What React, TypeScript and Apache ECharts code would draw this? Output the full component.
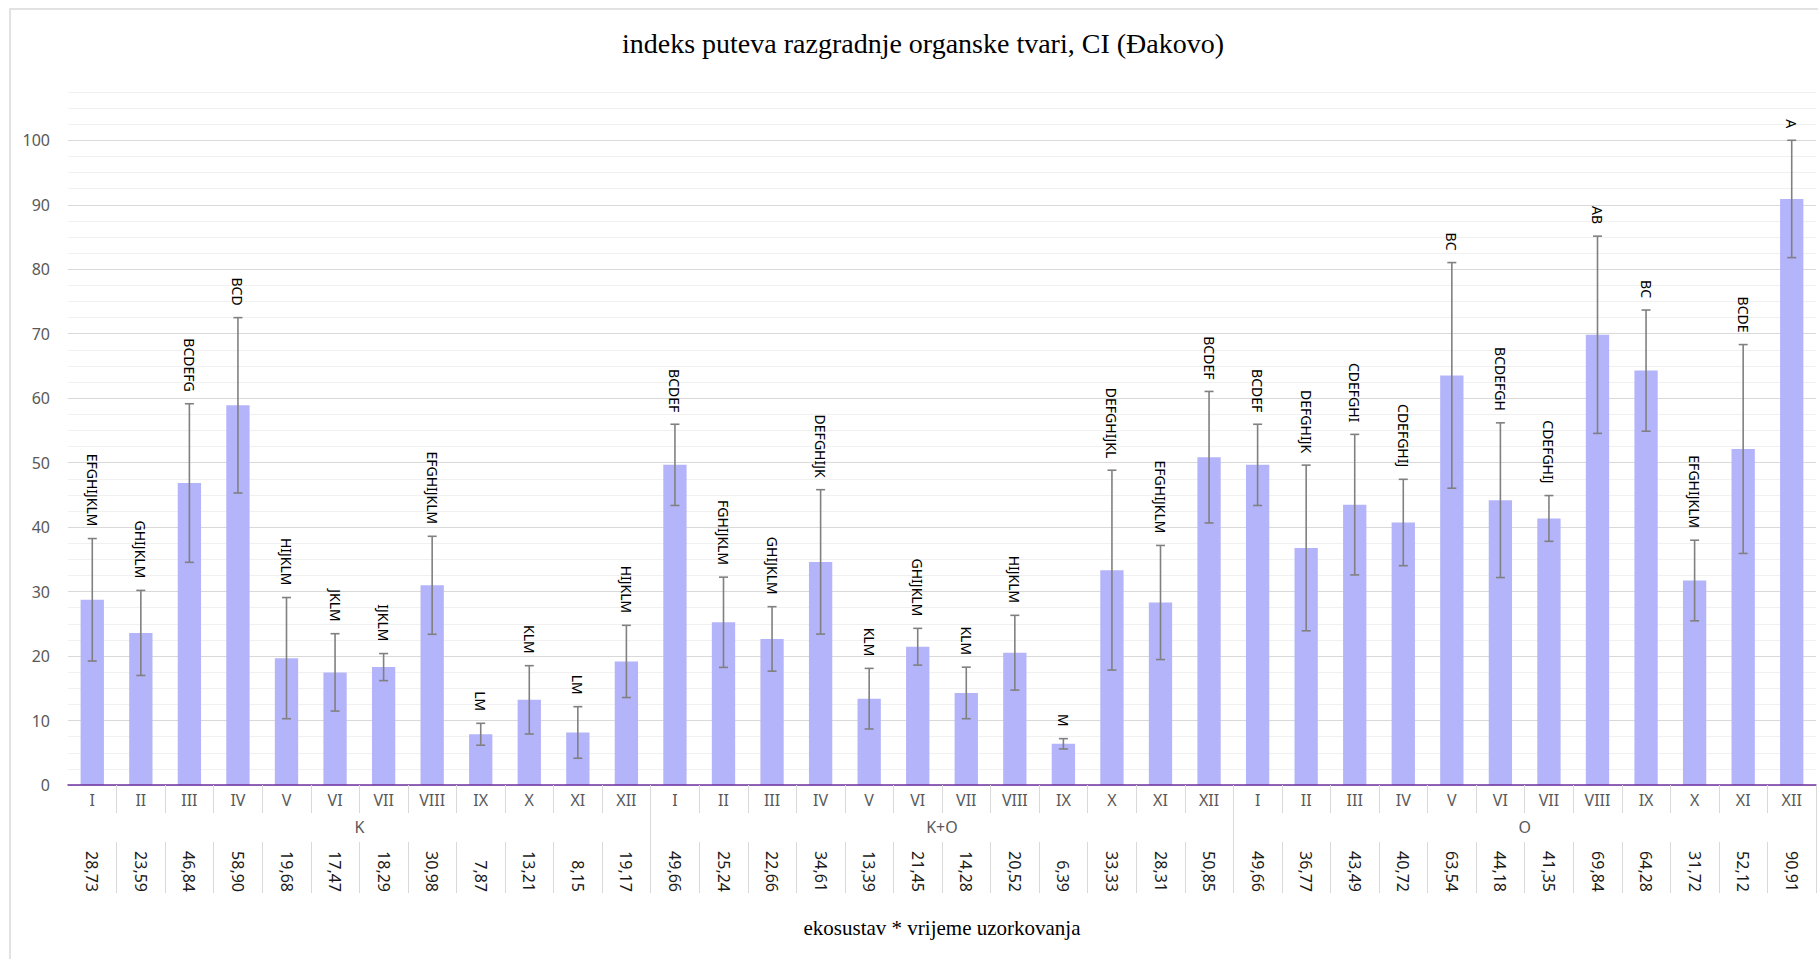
import React, { useEffect, useRef } from "react";
import * as echarts from "echarts";

const months = ["I", "II", "III", "IV", "V", "VI", "VII", "VIII", "IX", "X", "XI", "XII"];
const groups = ["K", "K+O", "O"];

const meanK = [28.73, 23.59, 46.84, 58.9, 19.68, 17.47, 18.29, 30.98, 7.87, 13.21, 8.15, 19.17];
const meanKO = [49.66, 25.24, 22.66, 34.61, 13.39, 21.45, 14.28, 20.52, 6.39, 33.33, 28.31, 50.85];
const meanO = [49.66, 36.77, 43.49, 40.72, 63.54, 44.18, 41.35, 69.84, 64.28, 31.72, 52.12, 90.91];

const errK = [9.5, 6.6, 12.3, 13.6, 9.4, 6.0, 2.1, 7.6, 1.7, 5.3, 4.0, 5.6];
const errKO = [6.3, 7.0, 5.0, 11.2, 4.7, 2.85, 4.0, 5.8, 0.8, 15.5, 8.85, 10.2];
const errO = [6.3, 12.85, 10.9, 6.7, 17.5, 12.0, 3.55, 15.3, 9.4, 6.25, 16.2, 9.1];

const lettersK = ["EFGHIJKLM", "GHIJKLM", "BCDEFG", "BCD", "HIJKLM", "JKLM", "IJKLM", "EFGHIJKLM", "LM", "KLM", "LM", "HIJKLM"];
const lettersKO = ["BCDEF", "FGHIJKLM", "GHIJKLM", "DEFGHIJK", "KLM", "GHIJKLM", "KLM", "HIJKLM", "M", "DEFGHIJKL", "EFGHIJKLM", "BCDEF"];
const lettersO = ["BCDEF", "DEFGHIJK", "CDEFGHI", "CDEFGHIJ", "BC", "BCDEFGH", "CDEFGHIJ", "AB", "BC", "EFGHIJKLM", "BCDE", "A"];

const yMax = 107.5;
const yStep = 2.5;

const titleText = "indeks puteva razgradnje organske tvari, CI (Đakovo)";
const xTitleText = "ekosustav * vrijeme uzorkovanja";

export default function App() {
  const ref = useRef<HTMLDivElement>(null);

  useEffect(() => {
    if (!ref.current) return;
    const chart = echarts.init(ref.current, undefined, { renderer: "svg" });

    const cats = [...months, ...months, ...months];
    const means = [...meanK, ...meanKO, ...meanO];
    const errs = [...errK, ...errKO, ...errO];
    const letters = [...lettersK, ...lettersKO, ...lettersO];
    const valueLabels = means.map((v) => v.toFixed(2).replace(".", ","));
    const errData = means.map((m, i) => [i, m - errs[i], m + errs[i]]);

    const font = "Noto Sans";
    const skipFirst = (i: number) => i !== 0;

    chart.setOption({
      animation: false,
      backgroundColor: "#ffffff",
      graphic: [
        {
          type: "rect",
          shape: { x: 10, y: 9, width: 1830, height: 980 },
          style: { fill: "none", stroke: "#d9d9d9", lineWidth: 1.5 },
          silent: true,
        },
        {
          type: "text",
          x: 923,
          y: 43,
          style: {
            text: titleText,
            fontFamily: "Liberation Serif",
            fontSize: 28,
            fill: "#000000",
            textAlign: "center",
            textVerticalAlign: "middle",
          },
        },
        {
          type: "text",
          x: 942,
          y: 928,
          style: {
            text: xTitleText,
            fontFamily: "Liberation Serif",
            fontSize: 21,
            fill: "#000000",
            textAlign: "center",
            textVerticalAlign: "middle",
          },
        },
      ],
      grid: { left: 68, right: 2, top: 92, bottom: 174, containLabel: false },
      xAxis: [
        {
          type: "category",
          data: cats,
          position: "bottom",
          axisLine: { show: true, lineStyle: { color: "#7030a0", width: 1.5 } },
          axisTick: { show: true, length: 28, interval: skipFirst, lineStyle: { color: "#d9d9d9", width: 1 } },
          axisLabel: { interval: 0, margin: 7, color: "#595959", fontSize: 16, fontFamily: font },
          splitLine: { show: false },
          z: 5,
        },
        {
          type: "category",
          data: groups,
          position: "bottom",
          offset: 0,
          axisLine: { show: false },
          axisTick: { show: true, length: 108, interval: skipFirst, lineStyle: { color: "#d9d9d9", width: 1 } },
          axisLabel: { interval: 0, margin: 34, color: "#595959", fontSize: 16, fontFamily: font },
          splitLine: { show: false },
        },
        {
          type: "category",
          data: valueLabels,
          position: "bottom",
          offset: 57,
          axisLine: { show: false },
          axisTick: { show: true, length: 51, interval: skipFirst, lineStyle: { color: "#d9d9d9", width: 1 } },
          axisLabel: {
            interval: 0,
            rotate: -90,
            align: "right",
            verticalAlign: "middle",
            margin: 50,
            color: "#1a1a1a",
            fontSize: 16,
            fontFamily: font,
          },
          splitLine: { show: false },
        },
      ],
      yAxis: {
        type: "value",
        min: 0,
        max: yMax,
        interval: yStep,
        axisLine: { show: false },
        axisTick: { show: false },
        axisLabel: {
          margin: 18,
          color: "#595959",
          fontSize: 16,
          fontFamily: font,
          formatter: (v: number) => (Math.abs(v % 10) < 1e-9 && v <= 100 ? String(v) : ""),
        },
        splitLine: {
          show: true,
          lineStyle: { color: ["#d9d9d9", "#f0f0f0", "#f0f0f0", "#f0f0f0"], width: 1.2 },
        },
      },
      series: [
        {
          type: "bar",
          xAxisIndex: 0,
          data: means,
          barWidth: "48%",
          itemStyle: { color: "#b4b4fa" },
          z: 2,
        },
        {
          type: "custom",
          xAxisIndex: 0,
          data: errData,
          encode: { x: 0, y: [1, 2] },
          z: 3,
          renderItem: (params: any, api: any) => {
            const i = params.dataIndex;
            const lo = api.coord([api.value(0), api.value(1)]);
            const hi = api.coord([api.value(0), api.value(2)]);
            const cap = 4.5;
            const st = { stroke: "#808080", lineWidth: 1.6 };
            return {
              type: "group",
              children: [
                { type: "line", shape: { x1: hi[0], y1: hi[1], x2: lo[0], y2: lo[1] }, style: st },
                { type: "line", shape: { x1: hi[0] - cap, y1: hi[1], x2: hi[0] + cap, y2: hi[1] }, style: st },
                { type: "line", shape: { x1: lo[0] - cap, y1: lo[1], x2: lo[0] + cap, y2: lo[1] }, style: st },
                {
                  type: "text",
                  x: hi[0],
                  y: hi[1] - 12,
                  rotation: -Math.PI / 2,
                  style: {
                    text: letters[i],
                    fontFamily: font,
                    fontSize: 14,
                    fill: "#000000",
                    textAlign: "right",
                    textVerticalAlign: "middle",
                  },
                },
              ],
            };
          },
        },
      ],
    });

    return () => chart.dispose();
  }, []);

  return (
    <div
      ref={ref}
      style={{ position: "fixed", left: 0, top: 0, width: 1818, height: 959, background: "#fff" }}
    />
  );
}
